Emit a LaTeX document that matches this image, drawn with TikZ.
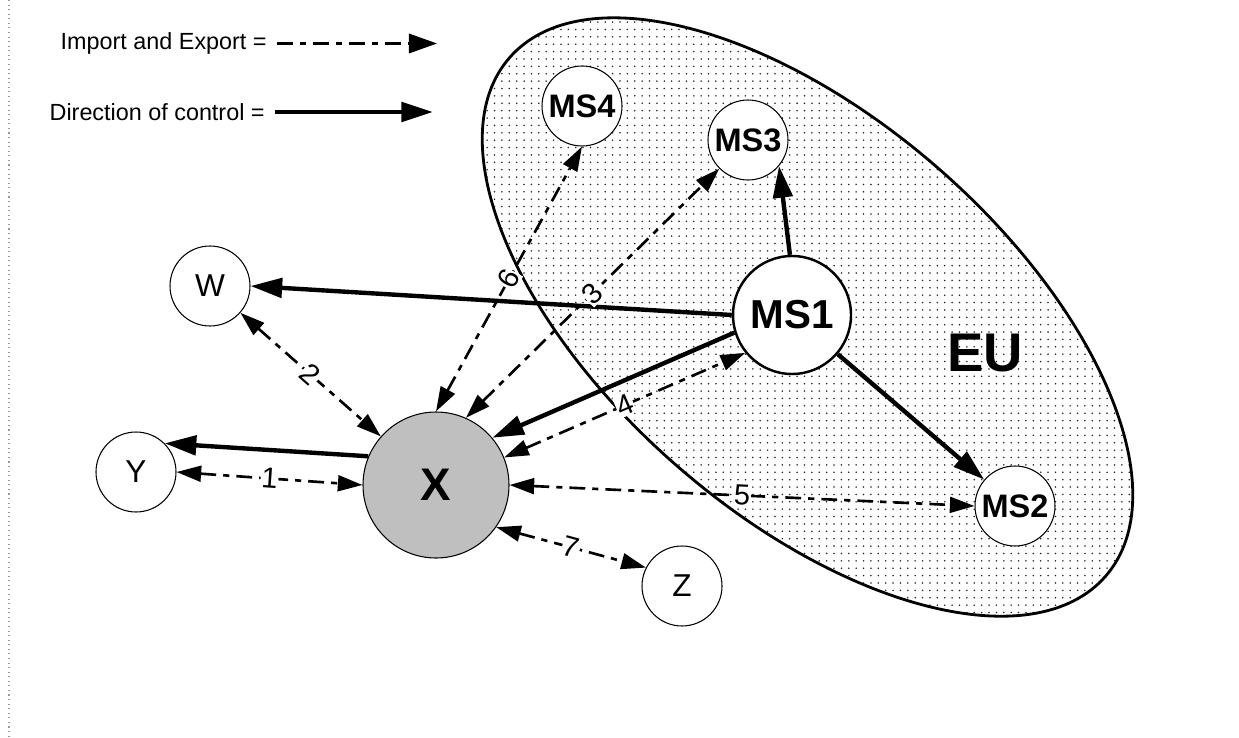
\documentclass[tikz,border=0pt]{standalone}
\usepackage{fontspec}
\setmainfont{Liberation Sans}
\usetikzlibrary{arrows.meta, patterns.meta}
\tikzstyle{state} = [circle, minimum size=1.6cm, inner sep=0pt, draw=black, line width=0.6pt, fill=white, font=\fontsize{18pt}{20pt}\selectfont]
\tikzstyle{member} = [state, font=\bfseries\fontsize{18.5pt}{20pt}\selectfont]
\tikzstyle{legend} = [inner xsep=0.2cm, inner ysep=0pt, anchor=east, font=\fontsize{13.3pt}{15pt}\selectfont]
\tikzstyle{control} = [line width=2.5pt, -{Triangle[length=18pt,width=11pt]}]
\tikzstyle{trade} = [line width=1.5pt, dash pattern=on 9pt off 4pt on 3.5pt off 4pt, {Triangle[length=14pt,width=9pt]}-{Triangle[length=14pt,width=9pt]}]
\tikzstyle{num} = [sloped, fill=white, inner sep=0.5pt, font=\fontsize{16.5pt}{18pt}\selectfont]

\begin{document}
\begin{tikzpicture}
    \useasboundingbox (0,0) rectangle (24.78,-14.76);
    \draw [black!40, line width=0.6pt, dotted] (0.18,0) -- (0.18,-14.76);

    % the EU area
    \coordinate (eucenter) at (16.15,-6.34);
    \begin{scope}
        \clip [rotate around={-41:(eucenter)}] (eucenter) ellipse [x radius=7.9cm, y radius=3.96cm];
        \fill [pattern={Dots[distance=4.2pt, radius=0.5pt]}, pattern color=black!85] (7.5,0) rectangle (23.5,-13);
    \end{scope}
    \draw [line width=1.6pt, rotate around={-41:(eucenter)}] (eucenter) ellipse [x radius=7.9cm, y radius=3.96cm];
    \node (eulabel) at (19.7,-7.06) {\bfseries\fontsize{31pt}{33pt}\selectfont EU};

    % legend
    \node (lgimport) [legend] at (5.54,-0.87) {Import and Export =};
    \coordinate (lgimportend) at (8.74,-0.87);
    \node (lgcontrol) [legend] at (5.5,-2.24) {Direction of control =};
    \coordinate (lgcontrolend) at (8.66,-2.24);
    \draw [trade, -{Triangle[length=16pt,width=11pt]}] (lgimport) -- (lgimportend);
    \draw [control] (lgcontrol) -- (lgcontrolend);

    % countries
    \node (W) [state] at (4.2,-5.72) {W};
    \node (Y) [state] at (2.72,-9.44) {Y};
    \node (Z) [state] at (13.64,-11.72) {Z};
    \node (X) [state, minimum size=2.92cm, fill=black!25, font=\bfseries\fontsize{26pt}{28pt}\selectfont] at (8.72,-9.7) {X};
    \node (MS1) [member, minimum size=2.36cm, line width=1.4pt, font=\bfseries\fontsize{23pt}{25pt}\selectfont] at (15.84,-6.3) {MS1};
    \node (MS2) [member] at (20.3,-10.12) {MS2};
    \node (MS3) [member] at (14.96,-2.8) {MS3};
    \node (MS4) [member] at (11.64,-2.12) {MS4};

    % direction of control
    \draw [control] (MS1.west) -- (W.east);
    \draw [control] (MS1.197) -- (X.40);
    \draw [control] (MS1.92) -- (MS3.-40);
    \draw [control] (MS1) -- (MS2);
    \draw [control] (X.157) -- (Y.45);

    % import and export
    \draw [trade] (Y.east) -- node[num] {1} (X.west);
    \draw [trade] (W) -- node[num] {2} (X);
    \draw [trade] (X.66) -- node[num] {3} (MS3.225);
    \draw [trade] (X.22) -- node[num] {4} (MS1.219);
    \draw [trade] (X.east) -- node[num] {5} (MS2.west);
    \draw [trade] (X.north) -- node[num] {6} (MS4.south);
    \draw [trade] (X.-35) -- node[num] {7} (Z.153);

\end{tikzpicture}
\end{document}
